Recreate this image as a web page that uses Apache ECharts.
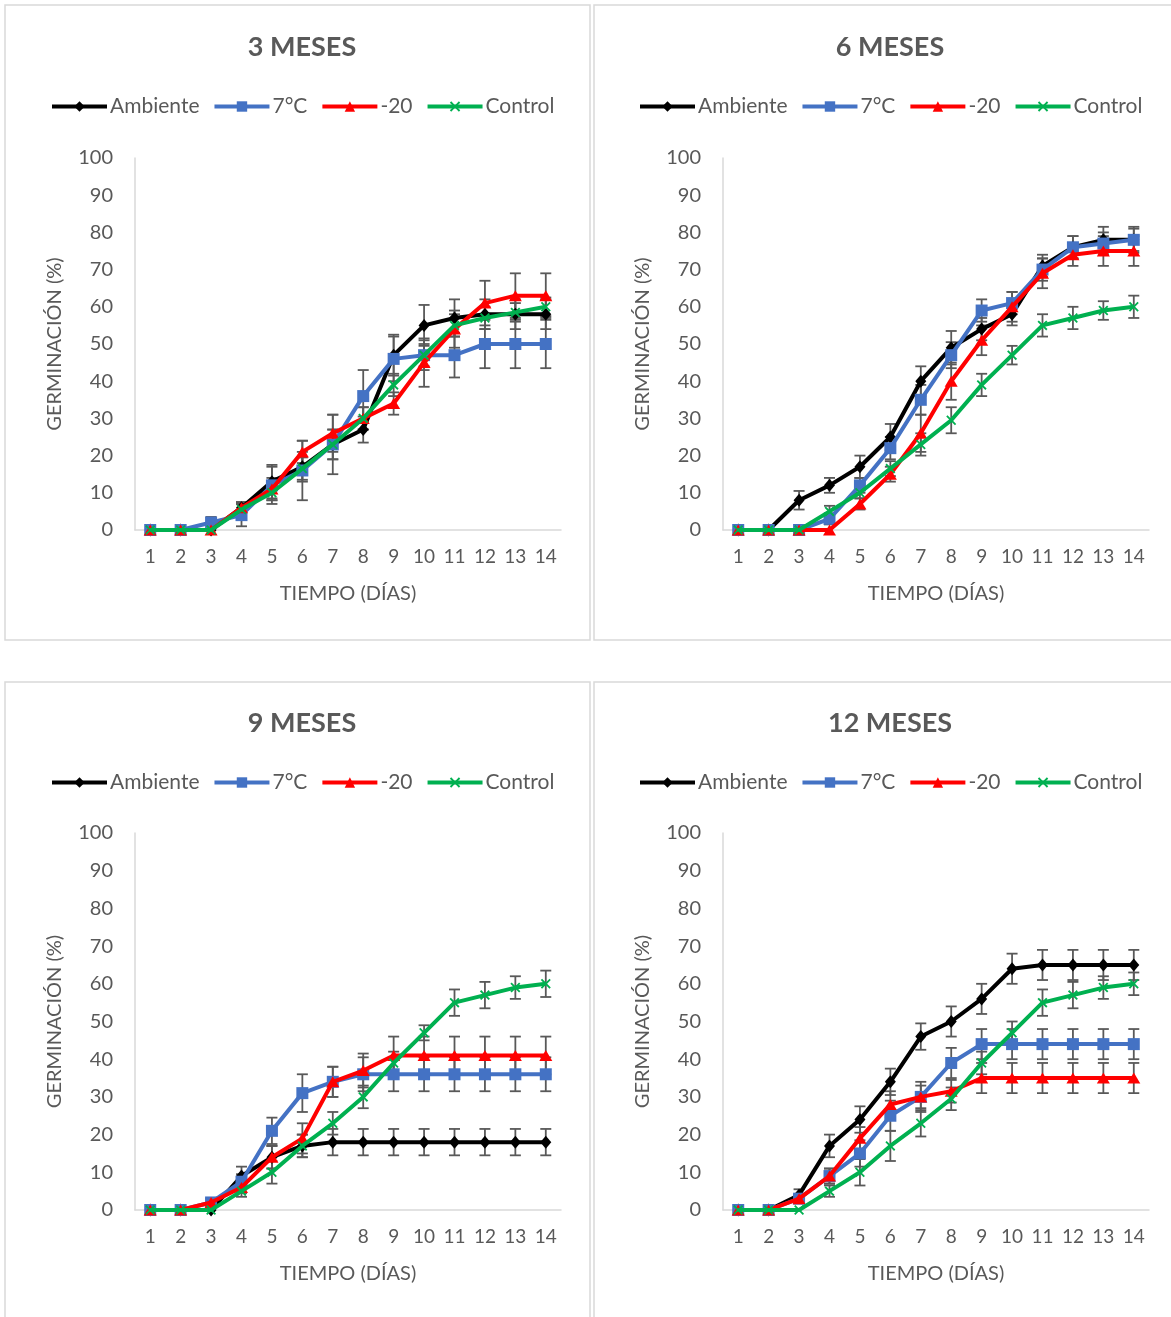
<!DOCTYPE html>
<html>
<head>
<meta charset="utf-8">
<script src="https://cdn.jsdelivr.net/npm/echarts@6/dist/echarts.min.js"></script>
<style>html,body{margin:0;padding:0;background:#fff}#c{width:1171px;height:1317px}</style>
</head>
<body>
<div id="c"></div>
<script>
const days = ['1','2','3','4','5','6','7','8','9','10','11','12','13','14'];
const seriesNames = ['Ambiente','7°C','-20','Control'];
const panelTitles = ['3 MESES','6 MESES','9 MESES','12 MESES'];
const yTicksMax = 100;

// 3 meses
const m3_amb = [0,0,0,6,13,17,23,27,47,55,57,58,58,58];
const m3_amb_err = [0,0,0,1.5,4.5,4,4,3.5,5.5,5.5,5,4,4,4];
const m3_7c = [0,0,2,4,12,16,23,36,46,47,47,50,50,50];
const m3_7c_err = [0,0,1.5,3,5,8,8,7,6,4,6,6.5,6.5,6.5];
const m3_m20 = [0,0,0,6,11,21,26,30,34,45,54,61,63,63];
const m3_m20_err = [0,0,0,1.5,3,3,5,3,3,6.5,5,6,6,6];
const m3_ctrl = [0,0,0,5.5,10,16.5,23,30,39,47,55,57,58.5,60];
const m3_ctrl_err = [0,0,0,1.5,2,3,4,3,3,3,3,3,2.5,2.5];

// 6 meses
const m6_amb = [0,0,8,12,17,25,40,49,54,58,71,76,78,78];
const m6_amb_err = [0,0,2.5,2,3,3.5,4,4.5,3,3,3,3,3.5,3.5];
const m6_7c = [0,0,0,3,12,22,35,47,59,61,70,76,77,78];
const m6_7c_err = [0,0,0,1.5,2,3,4,3.5,3,3,3,3,3,3];
const m6_m20 = [0,0,0,0,7,15,26,40,51,60,69,74,75,75];
const m6_m20_err = [0,0,0,0,1.5,2,5,5,4,4,4,3,4,4];
const m6_ctrl = [0,0,0,5,10,16.5,23,29.5,39,47,55,57,59,60];
const m6_ctrl_err = [0,0,0,1.5,1.5,2,3,3.5,3,2.5,3,3,2.5,3];

// 9 meses
const m9_amb = [0,0,0,9,14,17,18,18,18,18,18,18,18,18];
const m9_amb_err = [0,0,0,2.5,3,3,3.5,3.5,3.5,3.5,3.5,3.5,3.5,3.5];
const m9_7c = [0,0,2,7.5,21,31,34,36,36,36,36,36,36,36];
const m9_7c_err = [0,0,1,2,3.5,5,4,4.5,4.5,4.5,4.5,4.5,4.5,4.5];
const m9_m20 = [0,0,2,6,14,19,34,37,41,41,41,41,41,41];
const m9_m20_err = [0,0,1,1.5,3,4,4,4.5,5,5,5,5,5,5];
const m9_ctrl = [0,0,0,5,10,17,23,30,39,47,55,57,59,60];
const m9_ctrl_err = [0,0,0,1.5,3,3,3,3,3,2,3.5,3.5,3,3.5];

// 12 meses
const m12_amb = [0,0,4,17,24,34,46,50,56,64,65,65,65,65];
const m12_amb_err = [0,0,1.5,3,3.5,3.5,3.5,4,4,4,4,4,4,4];
const m12_7c = [0,0,3,9,15,25,30,39,44,44,44,44,44,44];
const m12_7c_err = [0,0,1,2,3.5,4,4,4,4,4,4,4,4,4];
const m12_m20 = [0,0,3,9,19,28,30,31.5,35,35,35,35,35,35];
const m12_m20_err = [0,0,1,2,3,3.5,3,3,4,4,4,4,4,4];
const m12_ctrl = [0,0,0,5,10,17,23,29.5,39,47,55,57,59,60];
const m12_ctrl_err = [0,0,0,1.5,3.5,4,3.5,3,3,3,3.5,3.5,3,3];

const panels = [
  {vals:[m3_amb,m3_7c,m3_m20,m3_ctrl], errs:[m3_amb_err,m3_7c_err,m3_m20_err,m3_ctrl_err]},
  {vals:[m6_amb,m6_7c,m6_m20,m6_ctrl], errs:[m6_amb_err,m6_7c_err,m6_m20_err,m6_ctrl_err]},
  {vals:[m9_amb,m9_7c,m9_m20,m9_ctrl], errs:[m9_amb_err,m9_7c_err,m9_m20_err,m9_ctrl_err]},
  {vals:[m12_amb,m12_7c,m12_m20,m12_ctrl], errs:[m12_amb_err,m12_7c_err,m12_m20_err,m12_ctrl_err]}
];

const FONT = 'Lato';
const TXT = '#595959';
const colors = ['#000000','#4472C4','#FF0000','#00B050'];
const xPath = 'path://M0,1.3L1.3,0L5,3.7L8.7,0L10,1.3L6.3,5L10,8.7L8.7,10L5,6.3L1.3,10L0,8.7L3.7,5Z';
const symbols = ['diamond','rect','triangle',xPath];
const symSizes = [[11,13],12,[13,11],10];

// layout per panel
const layout = [
  {gx:135, gy:158, gh:372, px:5, py:5, ph:635, tx:297, ty:29, ly:96},
  {gx:723, gy:158, gh:372, px:594, py:5, ph:635, tx:885, ty:29, ly:96},
  {gx:135, gy:833, gh:377, px:5, py:682, ph:700, tx:297, ty:705, ly:772},
  {gx:723, gy:833, gh:377, px:594, py:682, ph:700, tx:885, ty:705, ly:772}
];

const option = {
  animation:false,
  backgroundColor:'#fff',
  title:[], legend:[], grid:[], xAxis:[], yAxis:[], series:[],
  graphic:[]
};

function renderErr(params, api){
  const x = api.value(0), v = api.value(1), e = api.value(2);
  if(!e) return null;
  const t = api.coord([x, v+e]), b = api.coord([x, v-e]);
  const cw = 5.5;
  const st = {stroke:'#595959', lineWidth:1.8};
  return {type:'group', children:[
    {type:'line', shape:{x1:t[0],y1:t[1],x2:b[0],y2:b[1]}, style:st},
    {type:'line', shape:{x1:t[0]-cw,y1:t[1],x2:t[0]+cw,y2:t[1]}, style:st},
    {type:'line', shape:{x1:b[0]-cw,y1:b[1],x2:b[0]+cw,y2:b[1]}, style:st}
  ]};
}

layout.forEach((L, i) => {
  option.graphic.push({type:'rect', shape:{x:L.px, y:L.py, width:(i%2===0?585:600), height:L.ph},
    style:{fill:'none', stroke:'#d9d9d9', lineWidth:1.5}, z:-1});
  option.title.push({text:panelTitles[i], left:L.tx, top:L.ty, textAlign:'center',
    textStyle:{fontFamily:FONT, fontSize:27, fontWeight:'bold', color:TXT}});
  option.legend.push({data:seriesNames, left:L.gx-85, top:L.ly, padding:0, itemWidth:55, itemHeight:13, itemGap:13,
    lineStyle:{width:4}, itemStyle:{},
    textStyle:{fontFamily:FONT, fontSize:21, color:TXT, padding:[0,0,0,-2]}, selectedMode:false});
  option.grid.push({left:L.gx, top:L.gy, width:426, height:L.gh});
  option.xAxis.push({type:'category', gridIndex:i, data:days, boundaryGap:true,
    axisLine:{lineStyle:{color:'#d9d9d9', width:1.5}}, axisTick:{show:false},
    axisLabel:{fontFamily:FONT, fontSize:19, color:TXT, margin:17, interval:0},
    name:'TIEMPO (DÍAS)', nameLocation:'middle', nameGap:54,
    nameTextStyle:{fontFamily:FONT, fontSize:20, color:TXT}});
  option.yAxis.push({type:'value', gridIndex:i, min:0, max:yTicksMax, interval:10,
    axisLine:{show:true, lineStyle:{color:'#d9d9d9', width:1.5}}, axisTick:{show:false},
    splitLine:{show:false},
    axisLabel:{fontFamily:FONT, fontSize:20, color:TXT, margin:22},
    name:'GERMINACIÓN (%)', nameLocation:'middle', nameGap:70, nameRotate:90,
    nameTextStyle:{fontFamily:FONT, fontSize:20, color:TXT}});
  const P = panels[i];
  const errData = [];
  P.vals.forEach((arr, s) => {
    arr.forEach((v, d) => { errData.push([d, v, P.errs[s][d]]); });
  });
  option.series.push({type:'custom', name:'err', xAxisIndex:i, yAxisIndex:i, renderItem:renderErr,
    data:errData, encode:{x:0, y:1}, z:1, silent:true});
  P.vals.forEach((arr, s) => {
    option.series.push({type:'line', name:seriesNames[s], xAxisIndex:i, yAxisIndex:i, data:arr,
      symbol:symbols[s], symbolSize:symSizes[s], showAllSymbol:true,
      lineStyle:{color:colors[s], width:4}, itemStyle:{color:colors[s]}, z:2+s});
  });
});

const chart = echarts.init(document.getElementById('c'), null, {renderer:'canvas'});
chart.setOption(option);
</script>
</body>
</html>
